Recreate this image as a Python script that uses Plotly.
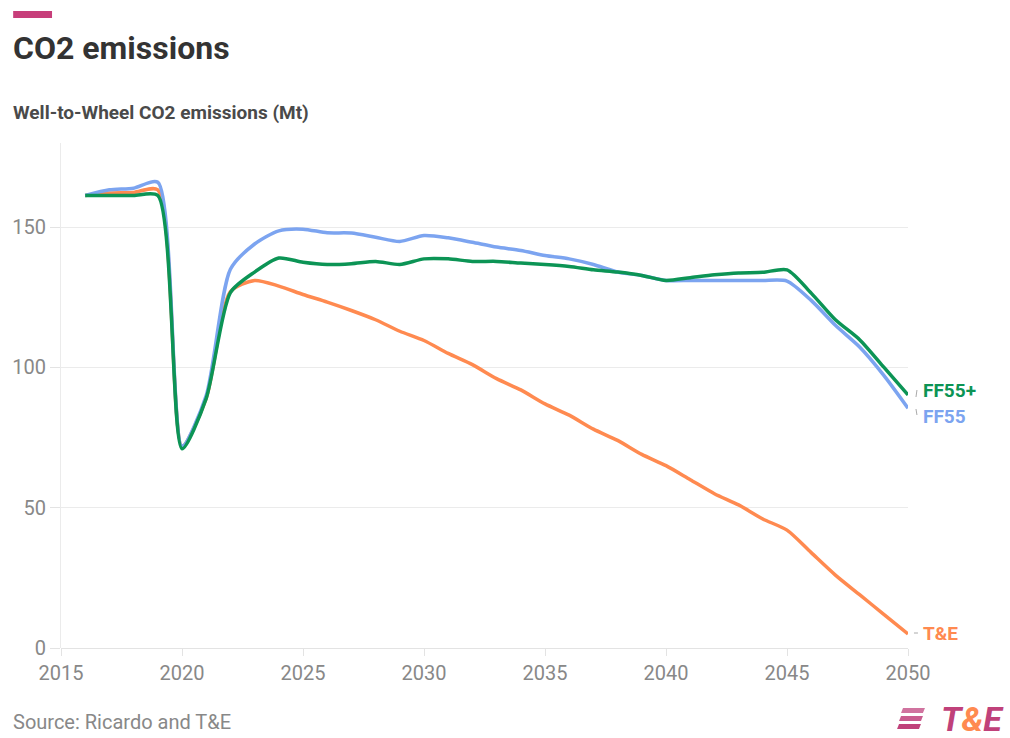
import plotly.graph_objects as go

years = list(range(2016, 2051))
ff55 = [161.3, 163.3, 163.9, 166.0, 72, 90, 135, 144, 148.7, 149.3,
        148, 147.9, 146.4, 144.9, 147, 146.2, 144.6, 142.9, 141.7, 139.9,
        138.7, 136.7, 134, 132.8, 131, 131, 131, 131, 131, 130.8,
        123.9, 115, 107.3, 97.2, 85.5]
ff55plus = [161.3, 161.3, 161.3, 161.3, 71, 89, 126.7, 134, 139, 137.5,
            136.7, 137, 137.8, 136.7, 138.7, 138.7, 137.8, 137.8, 137.2, 136.7,
            136, 134.8, 134, 132.8, 131, 132, 133, 133.7, 133.9, 134.8,
            126.5, 117, 109.9, 100.1, 90.2]
te = [161.3, 162.2, 162.4, 163.3, 72, 89, 127, 131, 129, 126,
      123.3, 120.3, 117, 112.9, 109.6, 105, 101, 96, 92, 87,
      83, 78, 74, 69, 65, 60, 55, 51, 46, 42,
      34, 26, 19, 12, 5]

series = [("FF55", ff55, "#7ca4f0"), ("FF55+", ff55plus, "#0c9455"), ("T&E", te, "#ff8a50")]

x_ticks = [2015, 2020, 2025, 2030, 2035, 2040, 2045, 2050]
y_ticks = [0, 50, 100, 150]

FONT = "Roboto"
L, R, T, B = 58, 908, 143, 648
W, H = 1010, 738

def px(x):
    return (x - L) / (R - L)

def py(y):
    return (B - y) / (B - T)

fig = go.Figure()
for name, vals, col in [series[2], series[0], series[1]]:
    fig.add_trace(go.Scatter(x=years, y=vals, mode="lines", name=name,
                             line=dict(color=col, width=3.5, shape="spline", smoothing=0.7),
                             hoverinfo="x+y"))

fig.update_layout(
    width=W, height=H,
    margin=dict(l=L, r=W - R, t=T, b=H - B),
    paper_bgcolor="white", plot_bgcolor="white",
    showlegend=False,
    font=dict(family=FONT, color="#888"),
    xaxis=dict(range=[2015, 2050], tickvals=x_ticks, ticks="outside", ticklen=7,
               tickcolor="#e3e3e3", showgrid=False, zeroline=False, showline=False,
               tickfont=dict(size=20, color="#888", family=FONT)),
    yaxis=dict(range=[0, 180], tickvals=y_ticks, ticks="outside", ticklen=10,
               tickcolor="#e3e3e3", showgrid=True, gridcolor="#ebebeb", gridwidth=1,
               zeroline=True, zerolinecolor="#e3e3e3", zerolinewidth=1,
               showline=True, linecolor="#ebebeb", linewidth=1,
               tickfont=dict(size=20, color="#888", family=FONT)),
)

shapes = [
    dict(type="rect", xref="paper", yref="paper", x0=px(10), x1=px(49), y0=py(18), y1=py(11),
         fillcolor="#c73e7a", line=dict(width=0)),
]
# logo stripes
for i, (y0, x0) in enumerate([(708, 903), (716, 901), (724, 899)]):
    shapes.append(dict(type="path", xref="paper", yref="paper",
                       path=f"M {px(x0)},{py(y0)} L {px(x0+22)},{py(y0)} L {px(x0+20)},{py(y0+5)} L {px(x0-2)},{py(y0+5)} Z",
                       fillcolor=["#d0739f", "#c95c8f", "#c0417a"][i], line=dict(width=0)))
# small connectors
shapes.append(dict(type="line", xref="paper", yref="paper", x0=px(914), x1=px(918), y0=py(633), y1=py(633),
                   line=dict(color="#aaa", width=1)))
shapes.append(dict(type="line", xref="paper", yref="paper", x0=px(916), x1=px(917), y0=py(397), y1=py(390),
                   line=dict(color="#aaa", width=1)))
shapes.append(dict(type="line", xref="paper", yref="paper", x0=px(916), x1=px(917), y0=py(409), y1=py(415),
                   line=dict(color="#aaa", width=1)))
fig.update_layout(shapes=shapes)

ann = [
    dict(text="<b>CO2 emissions</b>", x=px(8), y=py(48), xanchor="left", yanchor="middle",
         font=dict(size=32, color="#333", family=FONT)),
    dict(text="<b>Well-to-Wheel CO2 emissions (Mt)</b>", x=px(8), y=py(113), xanchor="left", yanchor="middle",
         font=dict(size=19, color="#4a4a4a", family=FONT)),
    dict(text="Source: Ricardo and T&E", x=px(8), y=py(722), xanchor="left", yanchor="middle",
         font=dict(size=20, color="#888", family=FONT)),
    dict(text="<b>FF55+</b>", x=px(921), y=py(390), xanchor="left", yanchor="middle",
         font=dict(size=19, color="#0c9455", family=FONT)),
    dict(text="<b>FF55</b>", x=px(921), y=py(416), xanchor="left", yanchor="middle",
         font=dict(size=19, color="#7ca4f0", family=FONT)),
    dict(text="<b>T&E</b>", x=px(921), y=py(633), xanchor="left", yanchor="middle",
         font=dict(size=19, color="#ff8a50", family=FONT)),
    dict(text="<b><i><span style='color:#c0417a'>T</span><span style='color:#ff8a50'>&</span><span style='color:#c0417a'>E</span></i></b>",
         x=px(1006), y=py(719), xanchor="right", yanchor="middle",
         font=dict(size=34, family=FONT)),
]
for a in ann:
    a.update(xref="paper", yref="paper", showarrow=False)
fig.update_layout(annotations=ann)

fig.write_html("out.html")
